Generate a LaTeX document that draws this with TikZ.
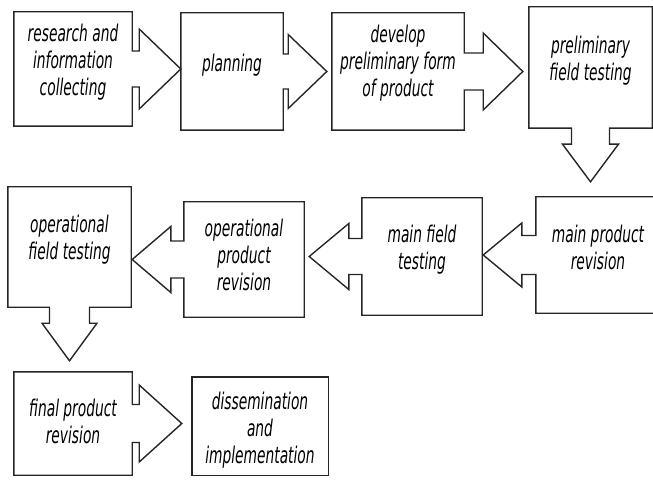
\documentclass[tikz,border=0pt]{standalone}
\usepackage{fontspec}
\usetikzlibrary{calc}

\newfontfamily\stagefont[FakeStretch=0.6]{DejaVu Sans}

\tikzset{
  stage/.style={inner sep=0pt},
  stage text/.style={inner sep=0pt, align=center,
    font=\stagefont\itshape\fontsize{23}{27}\selectfont},
  stage edge/.style={line width=1.4pt, draw=black!85, line join=miter}
}

% box with block arrow to the right: node, target, stem half, stem length, head half, gap
\newcommand{\stageright}[6]{
  \draw[stage edge] (#1.north west) -- (#1.north east) -- ($(#1.east)+(0,-#3)$)
    -- ($(#1.east)+(#4,-#3)$) -- ($(#1.east)+(#4,-#5)$) -- ($(#2.west |- #1.east)+(-#6,0)$)
    -- ($(#1.east)+(#4,#5)$) -- ($(#1.east)+(#4,#3)$) -- ($(#1.east)+(0,#3)$)
    -- (#1.south east) -- (#1.south west) -- cycle;
}
% box with block arrow to the left
\newcommand{\stageleft}[6]{
  \draw[stage edge] (#1.north east) -- (#1.north west) -- ($(#1.west)+(0,-#3)$)
    -- ($(#1.west)+(-#4,-#3)$) -- ($(#1.west)+(-#4,-#5)$) -- ($(#2.east |- #1.west)+(#6,0)$)
    -- ($(#1.west)+(-#4,#5)$) -- ($(#1.west)+(-#4,#3)$) -- ($(#1.west)+(0,#3)$)
    -- (#1.south west) -- (#1.south east) -- cycle;
}
% box with block arrow downwards
\newcommand{\stagedown}[6]{
  \draw[stage edge] (#1.north west) -- (#1.north east) -- (#1.south east)
    -- ($(#1.south)+(#3,0)$) -- ($(#1.south)+(#3,#4)$) -- ($(#1.south)+(#5,#4)$)
    -- ($(#2.north -| #1.south)+(0,-#6)$)
    -- ($(#1.south)+(-#5,#4)$) -- ($(#1.south)+(-#3,#4)$) -- ($(#1.south)+(-#3,0)$)
    -- (#1.south west) -- cycle;
}

\begin{document}
\begin{tikzpicture}[x=1pt, y=-1pt]

    \useasboundingbox (0,0) rectangle (653,486);

    % first row
    \node[stage, minimum width=118pt, minimum height=114pt,
      label={[stage text, yshift=7pt]center:research and\\information\\collecting}] (research) at (73,69) {};
    \node[stage, minimum width=102pt, minimum height=117pt,
      label={[stage text, yshift=6pt]center:planning}] (planning) at (232,71.5) {};
    \node[stage, minimum width=132pt, minimum height=117pt,
      label={[stage text, yshift=8pt]center:develop\\preliminary form\\of product}] (develop) at (398,71.5) {};
    \node[stage, minimum width=123pt, minimum height=121pt,
      label={[stage text, yshift=7pt]center:preliminary\\field testing}] (prelim) at (590.5,67.5) {};

    % second row
    \node[stage, minimum width=130pt, minimum height=116pt,
      label={[stage text, yshift=8pt, xshift=-3pt]center:main product\\revision}] (mainrev) at (601,255) {};
    \node[stage, minimum width=120pt, minimum height=117pt,
      label={[stage text, yshift=7pt]center:main field\\testing}] (mainfield) at (422,256.5) {};
    \node[stage, minimum width=120pt, minimum height=115pt,
      label={[stage text, yshift=5pt]center:operational\\product\\revision}] (oprev) at (244,259.5) {};
    \node[stage, minimum width=123pt, minimum height=120pt,
      label={[stage text, yshift=7pt]center:operational\\field testing}] (opfield) at (69.5,247) {};

    % third row
    \node[stage, minimum width=118pt, minimum height=103pt,
      label={[stage text, yshift=2pt]center:final product\\revision}] (finalrev) at (73,423.5) {};
    \node[stage, minimum width=136pt, minimum height=98pt,
      label={[stage text, yshift=-4pt]center:dissemination\\and\\implementation}] (dissem) at (260,426) {};

    \stageright{research}{planning}{18}{7}{40}{0}
    \stageright{planning}{develop}{17.5}{5}{37}{5}
    \stageright{develop}{prelim}{18.5}{19}{38.5}{6}
    \stagedown{prelim}{mainrev}{19}{16}{28}{15}
    \stageleft{mainrev}{mainfield}{19.5}{14}{32}{1}
    \stageleft{mainfield}{oprev}{18}{13}{33}{5}
    \stageleft{oprev}{opfield}{18.5}{13}{33}{1}
    \stagedown{opfield}{finalrev}{20}{16}{27.5}{11}
    \stageright{finalrev}{dissem}{19}{7}{38.5}{10}
    \draw[stage edge] (dissem.north west) rectangle (dissem.south east);

\end{tikzpicture}
\end{document}
